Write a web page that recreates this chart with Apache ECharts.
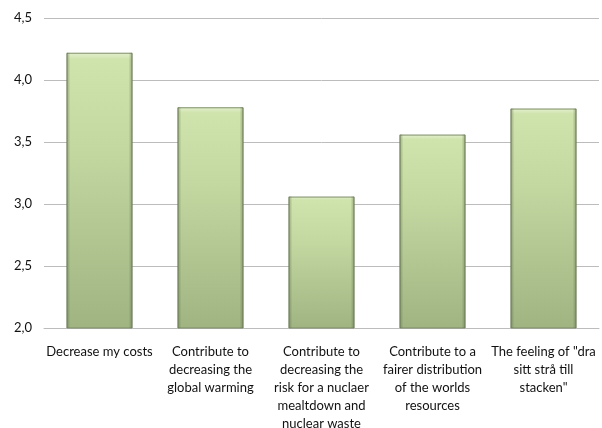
<!DOCTYPE html>
<html>
<head>
<meta charset="utf-8">
<script src="https://cdn.jsdelivr.net/npm/echarts@6/dist/echarts.min.js"></script>
<style>
  html, body { margin: 0; padding: 0; background: #fff; }
  #chart { width: 602px; height: 428px; }
</style>
</head>
<body>
<div id="chart"></div>
<script>
// Motives, mean score per statement
const categories = [
  'Decrease my costs',
  'Contribute to\ndecreasing the\nglobal warming',
  'Contribute to\ndecreasing the\nrisk for a nuclaer\nmealtdown and\nnuclear waste',
  'Contribute to a\nfairer distribution\nof the worlds\nresources',
  'The feeling of "dra\nsitt strå till\nstacken"'
];
const values = [4.22, 3.78, 3.06, 3.56, 3.77];
const yTicks = { min: 2.0, max: 4.5, step: 0.5 };

const FONT = 'Lato, "Open Sans", sans-serif';

const chart = echarts.init(document.getElementById('chart'), null, { renderer: 'canvas' });

// Main bar body: vertical green gradient, light at top, darker at bottom
const bodyFill = new echarts.graphic.LinearGradient(0, 0, 0, 1, [
  { offset: 0, color: '#e4f0cf' },
  { offset: 0.025, color: '#cfe3ac' },
  { offset: 0.35, color: '#c3d7a1' },
  { offset: 1, color: '#a0b482' }
]);
// Bevel shading on the sides of each bar
const edgeFill = new echarts.graphic.LinearGradient(0, 0, 1, 0, [
  { offset: 0, color: 'rgba(80,95,60,0.45)' },
  { offset: 0.06, color: 'rgba(80,95,60,0.0)' },
  { offset: 0.94, color: 'rgba(80,95,60,0.0)' },
  { offset: 1, color: 'rgba(80,95,60,0.45)' }
]);

chart.setOption({
  animation: false,
  grid: { left: 44, right: 3, top: 18, bottom: 100, outerBoundsMode: 'none', containLabel: false },
  xAxis: {
    type: 'category',
    data: categories,
    axisTick: { show: false },
    axisLine: { show: true, lineStyle: { color: '#bcbcbc', width: 1 } },
    axisLabel: {
      interval: 0,
      margin: 15,
      color: '#111',
      fontFamily: FONT,
      fontSize: 13,
      lineHeight: 18,
      align: 'center',
      verticalAlign: 'top'
    }
  },
  yAxis: {
    type: 'value',
    min: yTicks.min,
    max: yTicks.max,
    interval: yTicks.step,
    axisLine: { show: false },
    axisTick: { show: false },
    splitLine: { lineStyle: { color: '#bcbcbc', width: 1 } },
    axisLabel: {
      margin: 12,
      color: '#111',
      fontFamily: FONT,
      fontSize: 13,
      formatter: v => v.toFixed(1).replace('.', ',')
    }
  },
  series: [
    {
      type: 'bar',
      data: values,
      barWidth: 66,
      itemStyle: {
        color: bodyFill,
        borderColor: '#7d8d66',
        borderWidth: 1
      }
    },
    {
      type: 'bar',
      data: values,
      barWidth: 66,
      barGap: '-100%',
      silent: true,
      itemStyle: { color: edgeFill }
    }
  ]
});
</script>
</body>
</html>
